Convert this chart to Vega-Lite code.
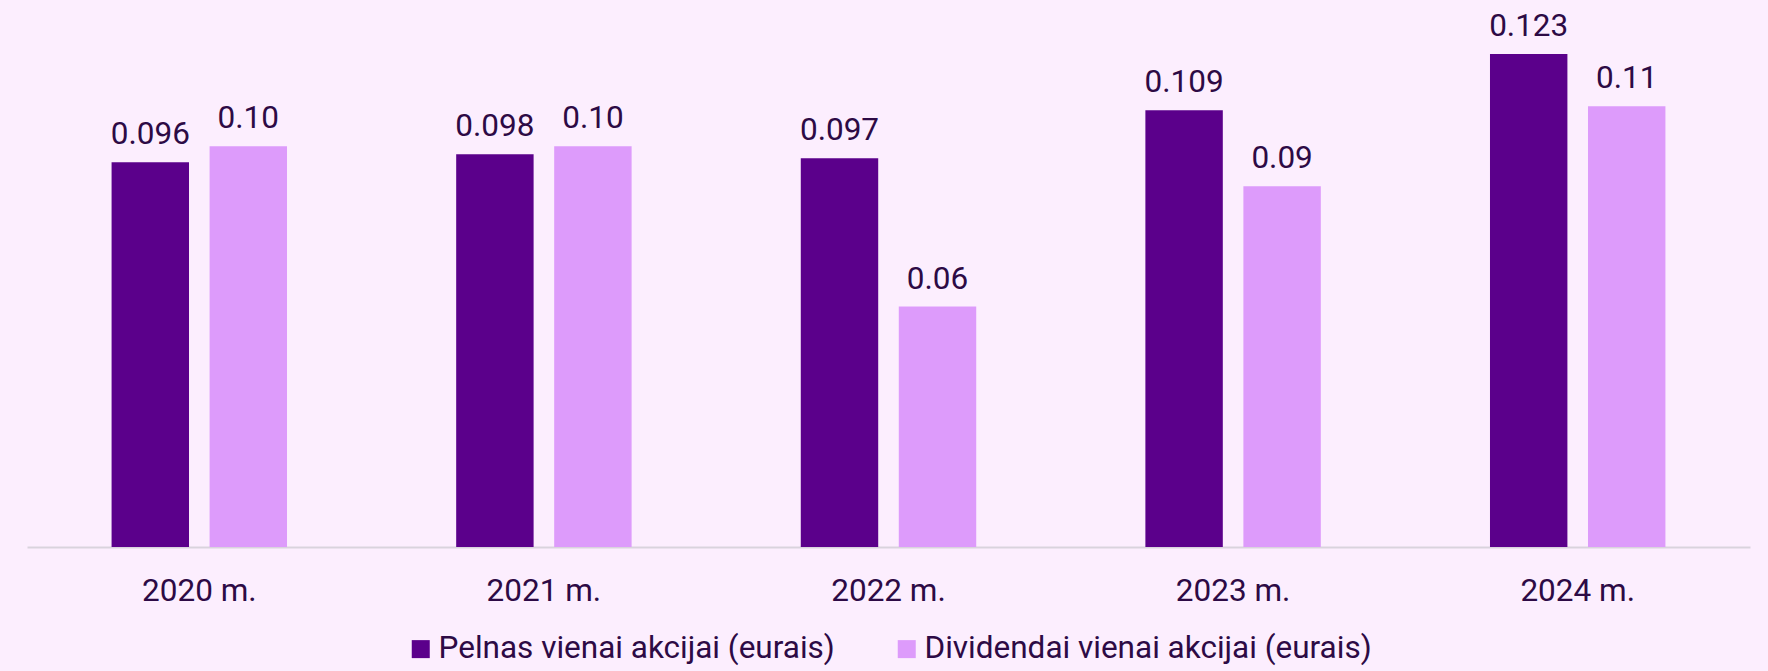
{
  "$schema": "https://vega.github.io/schema/vega-lite/v6.json",
  "width": 1723,
  "height": 547,
  "autosize": {"type": "none"},
  "padding": {"left": 27, "top": 0, "right": 18, "bottom": 124},
  "background": "#FCEEFE",
  "config": {"view": {"stroke": null}, "font": "Roboto"},
  "data": {
    "values": [
      {"year": "2020 m.", "series": "Pelnas vienai akcijai (eurais)", "value": 0.096, "label": "0.096"},
      {"year": "2020 m.", "series": "Dividendai vienai akcijai (eurais)", "value": 0.10, "label": "0.10"},
      {"year": "2021 m.", "series": "Pelnas vienai akcijai (eurais)", "value": 0.098, "label": "0.098"},
      {"year": "2021 m.", "series": "Dividendai vienai akcijai (eurais)", "value": 0.10, "label": "0.10"},
      {"year": "2022 m.", "series": "Pelnas vienai akcijai (eurais)", "value": 0.097, "label": "0.097"},
      {"year": "2022 m.", "series": "Dividendai vienai akcijai (eurais)", "value": 0.06, "label": "0.06"},
      {"year": "2023 m.", "series": "Pelnas vienai akcijai (eurais)", "value": 0.109, "label": "0.109"},
      {"year": "2023 m.", "series": "Dividendai vienai akcijai (eurais)", "value": 0.09, "label": "0.09"},
      {"year": "2024 m.", "series": "Pelnas vienai akcijai (eurais)", "value": 0.123, "label": "0.123"},
      {"year": "2024 m.", "series": "Dividendai vienai akcijai (eurais)", "value": 0.11, "label": "0.11"}
    ]
  },
  "encoding": {
    "x": {
      "field": "year",
      "type": "nominal",
      "sort": null,
      "scale": {"paddingInner": 0, "paddingOuter": 0},
      "axis": {
        "title": null,
        "labelAngle": 0,
        "domainColor": "#D9D3DD",
        "domainWidth": 2,
        "ticks": false,
        "tickSize": 0,
        "labelFont": "Roboto",
        "labelFontSize": 31.5,
        "labelColor": "#2D0A45",
        "labelBaseline": "alphabetic",
        "labelPadding": 53.7
      }
    },
    "xOffset": {
      "field": "series",
      "type": "nominal",
      "sort": ["Pelnas vienai akcijai (eurais)", "Dividendai vienai akcijai (eurais)"],
      "scale": {"paddingInner": 0.21, "paddingOuter": 0.863}
    },
    "y": {
      "field": "value",
      "type": "quantitative",
      "scale": {"domain": [0, 0.1365], "nice": false, "zero": true},
      "axis": null
    }
  },
  "layer": [
    {
      "mark": {"type": "bar"},
      "encoding": {
        "color": {
          "field": "series",
          "type": "nominal",
          "sort": ["Pelnas vienai akcijai (eurais)", "Dividendai vienai akcijai (eurais)"],
          "scale": {
            "domain": ["Pelnas vienai akcijai (eurais)", "Dividendai vienai akcijai (eurais)"],
            "range": ["#5B008B", "#DD9BFB"]
          },
          "legend": {
            "orient": "none",
            "legendX": 378,
            "legendY": 633,
            "direction": "horizontal",
            "title": null,
            "symbolType": "square",
            "symbolSize": 324,
            "symbolStrokeWidth": 0,
            "labelFont": "Roboto",
            "labelFontSize": 31.5,
            "labelColor": "#2D0A45",
            "labelLimit": 0,
            "labelOffset": 2,
            "columnPadding": 56
          }
        }
      }
    },
    {
      "mark": {"type": "text", "dy": -18, "baseline": "alphabetic", "fontSize": 31.5, "color": "#2D0A45", "font": "Roboto"},
      "encoding": {"text": {"field": "label"}}
    }
  ]
}
